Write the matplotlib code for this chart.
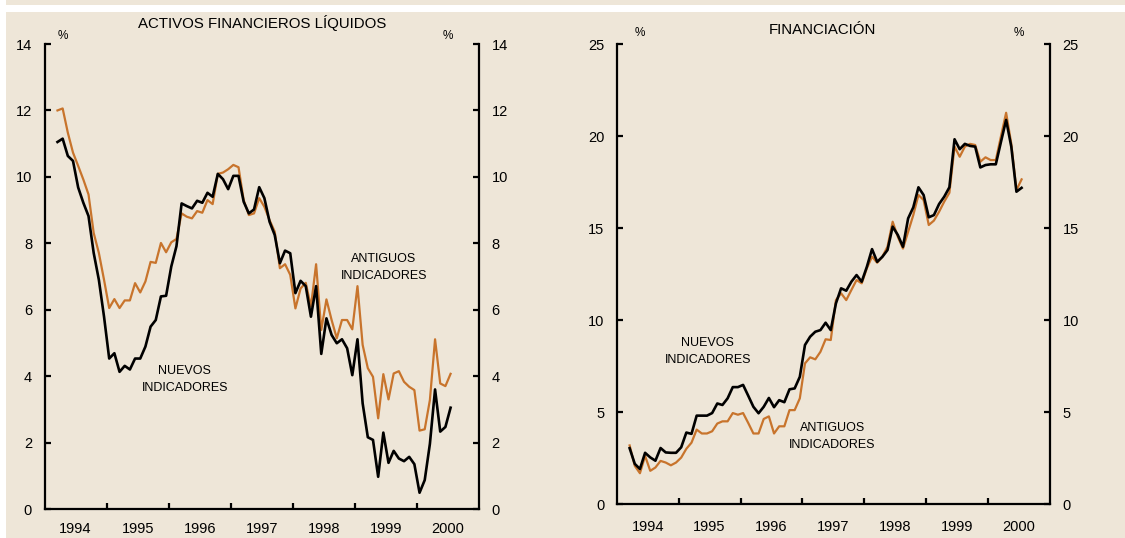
import numpy as np
import pandas as pd
import matplotlib
matplotlib.use('Agg')
from matplotlib import pyplot as plt
from matplotlib.patches import Rectangle

plt.rcParams['font.family'] = ['Liberation Sans', 'DejaVu Sans']

# monthly observations, Mar 1994 - Jul 2000
MESES = pd.date_range('1994-03-01', '2000-07-01', freq='MS')

# activos financieros liquidos (%)
liq_nuevos = [11.05, 11.15, 10.63, 10.48, 9.68, 9.22, 8.82, 7.71, 6.90, 5.79,
	4.53, 4.69, 4.13, 4.31, 4.20, 4.53, 4.53, 4.89, 5.49, 5.69,
	6.40, 6.42, 7.30, 7.91, 9.20, 9.12, 9.05, 9.28, 9.22, 9.52,
	9.40, 10.09, 9.93, 9.63, 10.03, 10.03, 9.25, 8.90, 9.02, 9.69,
	9.36, 8.65, 8.25, 7.40, 7.78, 7.70, 6.50, 6.87, 6.71, 5.79,
	6.71, 4.67, 5.74, 5.24, 4.99, 5.11, 4.84, 4.03, 5.11, 3.18,
	2.16, 2.08, 0.97, 2.30, 1.39, 1.75, 1.52, 1.44, 1.57, 1.35,
	0.49, 0.87, 1.96, 3.60, 2.33, 2.47, 3.05]
liq_antiguos = [12.00, 12.06, 11.33, 10.73, 10.33, 9.92, 9.47, 8.31, 7.71, 6.90,
	6.05, 6.32, 6.05, 6.28, 6.28, 6.80, 6.52, 6.85, 7.44, 7.41,
	8.01, 7.73, 8.03, 8.13, 8.90, 8.80, 8.75, 8.97, 8.92, 9.30,
	9.18, 10.09, 10.13, 10.23, 10.36, 10.29, 9.30, 8.85, 8.90, 9.36,
	9.10, 8.70, 8.35, 7.25, 7.37, 7.05, 6.04, 6.64, 6.81, 6.09,
	7.37, 5.39, 6.31, 5.69, 5.14, 5.69, 5.69, 5.41, 6.71, 4.94,
	4.24, 3.98, 2.73, 4.06, 3.30, 4.08, 4.15, 3.83, 3.68, 3.58,
	2.36, 2.40, 3.28, 5.11, 3.78, 3.70, 4.07]

# financiacion (%)
fin_nuevos = [3.05, 2.20, 1.92, 2.80, 2.55, 2.37, 3.06, 2.82, 2.80, 2.80,
	3.10, 3.90, 3.83, 4.82, 4.82, 4.82, 4.96, 5.48, 5.40, 5.76,
	6.37, 6.37, 6.49, 5.90, 5.30, 4.95, 5.30, 5.78, 5.28, 5.66,
	5.55, 6.25, 6.30, 6.93, 8.66, 9.11, 9.38, 9.47, 9.87, 9.47,
	10.92, 11.74, 11.61, 12.10, 12.46, 12.10, 12.91, 13.87, 13.18, 13.45,
	13.82, 15.09, 14.64, 14.00, 15.54, 16.14, 17.23, 16.81, 15.60, 15.72,
	16.32, 16.72, 17.23, 19.84, 19.30, 19.59, 19.48, 19.44, 18.31, 18.44,
	18.48, 18.48, 19.70, 20.89, 19.44, 16.99, 17.20]
fin_antiguos = [3.20, 2.09, 1.69, 2.63, 1.82, 2.00, 2.36, 2.27, 2.12, 2.27,
	2.54, 3.02, 3.35, 4.06, 3.85, 3.85, 3.97, 4.39, 4.51, 4.51,
	4.96, 4.87, 4.96, 4.42, 3.85, 3.85, 4.64, 4.78, 3.85, 4.24,
	4.24, 5.12, 5.12, 5.76, 7.66, 7.99, 7.88, 8.29, 8.97, 8.93,
	11.10, 11.47, 11.10, 11.65, 12.19, 12.01, 12.83, 13.46, 13.13, 13.46,
	14.00, 15.36, 14.54, 13.90, 14.81, 15.72, 16.81, 16.54, 15.18, 15.42,
	15.90, 16.45, 16.93, 19.44, 18.89, 19.44, 19.59, 19.53, 18.62, 18.86,
	18.71, 18.71, 20.00, 21.28, 19.60, 17.08, 17.66]

ANYOS = [1994, 1995, 1996, 1997, 1998, 1999, 2000]

BEIGE = '#EEE6D8'
NARANJA = '#C8742C'


def preparar(ax, ymax, paso, pad_x):
	ax.set_facecolor('none')
	ax.set_xlim(1994, 2001)
	ax.set_ylim(0, ymax)
	ax.spines['top'].set_visible(False)
	for s in ['left', 'right', 'bottom']:
		ax.spines[s].set_linewidth(1.6)
	ax.set_yticks(np.arange(0, ymax + 1, paso))
	ax.tick_params(axis='y', direction='in', length=4, width=1.6, labelsize=10.5,
		left=True, right=True, labelleft=True, labelright=True, pad=9)
	ax.set_xticks(ANYOS[1:])
	ax.set_xticklabels([])
	ax.tick_params(axis='x', which='major', direction='in', length=4, width=1.6)
	ax.set_xticks([a + 0.5 for a in ANYOS], minor=True)
	ax.set_xticklabels([str(a) for a in ANYOS], minor=True)
	ax.tick_params(axis='x', which='minor', length=0, labelsize=10.5, pad=pad_x)


def main():
	x = MESES.year + (MESES.month - 0.5) / 12

	fig = plt.figure(figsize=(11.25, 5.38), dpi=100, facecolor='white')
	fig.patches.append(Rectangle((6 / 1125, 0), 1, 526 / 538, transform=fig.transFigure,
		facecolor=BEIGE, edgecolor='none', zorder=-10))
	fig.patches.append(Rectangle((6 / 1125, 533 / 538), 1, 5 / 538, transform=fig.transFigure,
		facecolor=BEIGE, edgecolor='none', zorder=-10))

	ax1 = fig.add_axes([0.0396, 0.0539, 0.3862, 0.8643])
	preparar(ax1, 14, 2, 9.5)
	ax1.plot(x, liq_antiguos, color=NARANJA, lw=1.6)
	ax1.plot(x, liq_nuevos, color='black', lw=1.9)
	ax1.text(1999.47, 7.26, 'ANTIGUOS\nINDICADORES', ha='center', va='center', fontsize=9, linespacing=1.55)
	ax1.text(1996.26, 3.91, 'NUEVOS\nINDICADORES', ha='center', va='center', fontsize=9, linespacing=1.55)

	ax2 = fig.add_axes([0.5482, 0.0626, 0.3851, 0.8550])
	preparar(ax2, 25, 5, 11.5)
	ax2.plot(x, fin_antiguos, color=NARANJA, lw=1.6)
	ax2.plot(x, fin_nuevos, color='black', lw=1.9)
	ax2.text(1995.47, 8.3, 'NUEVOS\nINDICADORES', ha='center', va='center', fontsize=9, linespacing=1.55)
	ax2.text(1997.48, 3.68, 'ANTIGUOS\nINDICADORES', ha='center', va='center', fontsize=9, linespacing=1.55)

	fig.text(0.233, 0.957, 'ACTIVOS FINANCIEROS LÍQUIDOS', ha='center', va='center', fontsize=10.8)
	fig.text(0.731, 0.944, 'FINANCIACIÓN', ha='center', va='center', fontsize=10.8)
	for px, py in [(63, 36), (448, 36), (640, 33), (1019, 33)]:
		fig.text(px / 1125, 1 - py / 538, '%', ha='center', va='center', fontsize=8.5)

	fig.savefig('out.png', dpi=100, facecolor=fig.get_facecolor())


if __name__ == '__main__':
	main()
